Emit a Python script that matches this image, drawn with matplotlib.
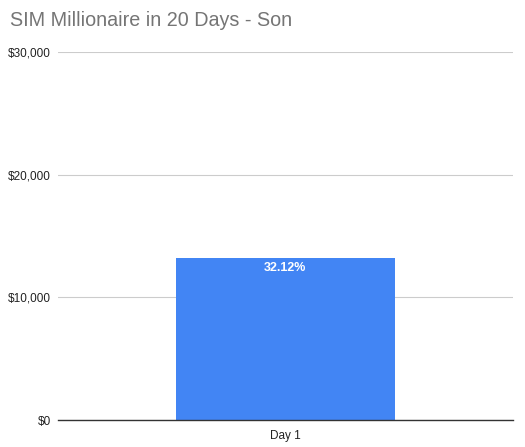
import matplotlib
matplotlib.use("Agg")
import matplotlib.pyplot as plt
from matplotlib.ticker import FuncFormatter

plt.rcParams['font.family'] = ['Liberation Sans', 'DejaVu Sans']

days = ["Day 1"]
balances = [13212]
gains = ["32.12%"]
y_ticks = [0, 10000, 20000, 30000]

fig = plt.figure(figsize=(5.25, 4.47), dpi=100)
ax = fig.add_axes([0.110, 0.0604, 0.867, 0.8233])

bars = ax.bar(range(len(days)), balances, width=0.48, color="#4285f4", zorder=2)
for rect, lbl in zip(bars, gains):
    ax.text(rect.get_x() + rect.get_width() / 2, rect.get_height() - 350, lbl,
            ha="center", va="top", color="white", fontsize=9, fontweight="bold")

ax.set_xlim(-0.5, len(days) - 0.5)
ax.set_ylim(0, 30000)
ax.set_yticks(y_ticks)
ax.yaxis.set_major_formatter(FuncFormatter(lambda v, p: "${:,.0f}".format(v)))
ax.set_xticks(range(len(days)))
ax.set_xticklabels(days)
ax.grid(axis="y", color="#cccccc", linewidth=0.8, zorder=0)
for s in ["top", "right", "left"]:
    ax.spines[s].set_visible(False)
ax.spines["bottom"].set_color("#333333")
ax.spines["bottom"].set_linewidth(1.0)
ax.spines["bottom"].set_zorder(3)
ax.tick_params(axis="both", length=0, labelsize=8.5, colors="#222222")
ax.tick_params(axis="y", pad=5)
ax.tick_params(axis="x", pad=7)

fig.text(0.019, 0.955, "SIM Millionaire in 20 Days - Son", fontsize=14.2,
         color="#757575", ha="left", va="center")

fig.savefig("out.png", dpi=100)
